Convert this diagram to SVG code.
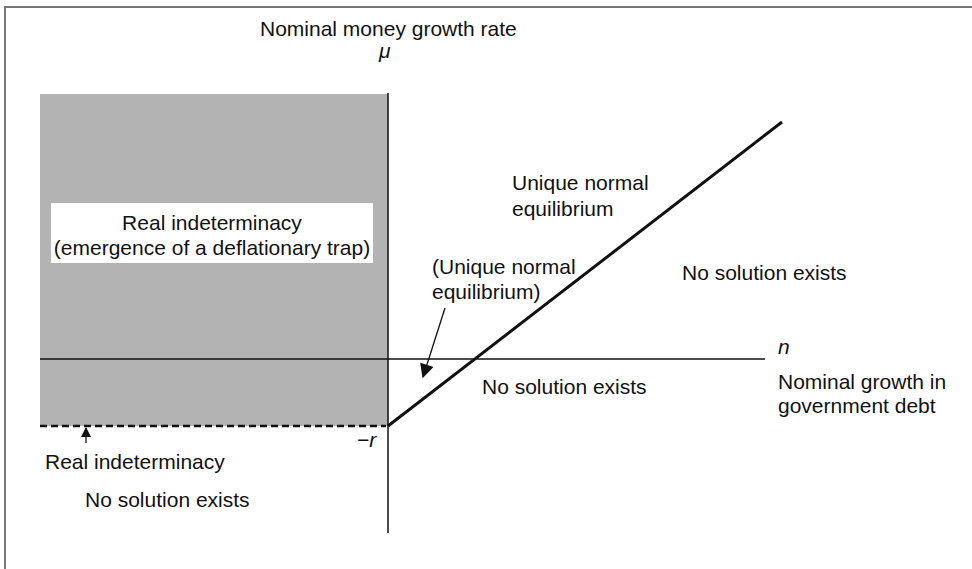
<svg xmlns="http://www.w3.org/2000/svg" width="972" height="569" viewBox="0 0 972 569">
  <defs>
    <style>
      text { font-family: "Liberation Sans", Arial, sans-serif; font-size: 21px; fill: #111; }
      .it { font-style: italic; }
      .axis { stroke: #111; stroke-width: 1.5; fill: none; }
    </style>
    <marker id="ah" viewBox="0 0 10 10" refX="9" refY="5" markerWidth="12" markerHeight="10" markerUnits="userSpaceOnUse" orient="auto">
      <path d="M0,0 L10,5 L0,10 z" fill="#111"/>
    </marker>
    <marker id="ah2" viewBox="0 0 10 10" refX="9" refY="5" markerWidth="16" markerHeight="14" markerUnits="userSpaceOnUse" orient="auto">
      <path d="M0,0 L10,5 L0,10 z" fill="#111"/>
    </marker>
  </defs>
  <rect width="972" height="569" fill="#fff"/>
  <g id="frame">
    <line x1="5" y1="7" x2="972" y2="7" stroke="#777" stroke-width="2"/>
    <line x1="5" y1="6" x2="5" y2="569" stroke="#777" stroke-width="2"/>
  </g>
  <g id="region-real-indeterminacy">
    <rect x="40" y="94" width="348" height="332" fill="#b3b3b3"/>
    <rect x="51" y="203" width="322" height="60" fill="#fff"/>
    <text x="212" y="230" text-anchor="middle">Real indeterminacy</text>
    <text x="212" y="255" text-anchor="middle">(emergence of a deflationary trap)</text>
  </g>
  <g id="connectors">
    <line class="axis" x1="388" y1="93" x2="388" y2="533"/>
    <line class="axis" x1="40" y1="359" x2="765" y2="359"/>
    <line x1="40" y1="426" x2="386" y2="426" stroke="#111" stroke-width="2.5" stroke-dasharray="7,4"/>
    <line x1="388" y1="426" x2="782" y2="122" stroke="#111" stroke-width="3"/>
    <line x1="445" y1="308" x2="423" y2="377" stroke="#111" stroke-width="1.3" marker-end="url(#ah2)"/>
    <line x1="86" y1="443" x2="86" y2="428" stroke="#111" stroke-width="1.3" marker-end="url(#ah)"/>
  </g>
  <g id="labels">
    <text x="260" y="36">Nominal money growth rate</text>
    <text x="379" y="58" class="it">μ</text>
    <text x="512" y="190">Unique normal</text>
    <text x="512" y="216">equilibrium</text>
    <text x="432" y="274">(Unique normal</text>
    <text x="432" y="299">equilibrium)</text>
    <text x="682" y="280">No solution exists</text>
    <text x="778" y="354" class="it">n</text>
    <text x="778" y="389">Nominal growth in</text>
    <text x="778" y="413">government debt</text>
    <text x="482" y="394">No solution exists</text>
    <text x="357" y="447" class="it">−r</text>
    <text x="45" y="469">Real indeterminacy</text>
    <text x="85" y="507">No solution exists</text>
  </g>
</svg>
